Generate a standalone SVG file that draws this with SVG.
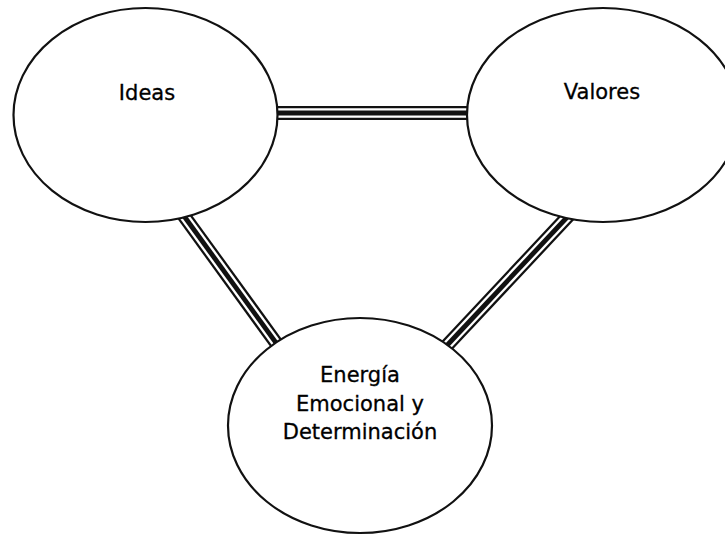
<svg xmlns="http://www.w3.org/2000/svg" width="725" height="535" viewBox="0 0 725 535">
<style>
.node ellipse{fill:#fff;stroke:#111;stroke-width:2.2}
.node text{font-family:"DejaVu Sans",Verdana,sans-serif;font-size:21px;fill:#000;stroke:#000;stroke-width:0.3;text-anchor:middle}
.c1{stroke:#111;stroke-width:14;fill:none}
.c2{stroke:#fff;stroke-width:9.5;fill:none}
.c3{stroke:#111;stroke-width:4.8;fill:none}
</style>
<rect width="725" height="535" fill="#fff"/>
<g id="connectors">
<g id="ideas-valores"><line class="c1" x1="270" y1="113" x2="475" y2="113"/><line class="c2" x1="270" y1="113" x2="475" y2="113"/><line class="c3" x1="270" y1="113" x2="475" y2="113"/></g>
<g id="ideas-energia"><line class="c1" x1="176" y1="205" x2="287" y2="358"/><line class="c2" x1="176" y1="205" x2="287" y2="358"/><line class="c3" x1="176" y1="205" x2="287" y2="358"/></g>
<g id="valores-energia"><line class="c1" x1="572" y1="212" x2="438" y2="355"/><line class="c2" x1="572" y1="212" x2="438" y2="355"/><line class="c3" x1="572" y1="212" x2="438" y2="355"/></g>
</g>
<g id="ideas" class="node"><ellipse cx="145.5" cy="115" rx="132" ry="107"/><text x="147" y="100">Ideas</text></g>
<g id="valores" class="node"><ellipse cx="603" cy="115" rx="136" ry="107"/><text x="602" y="99">Valores</text></g>
<g id="energia" class="node"><ellipse cx="360" cy="425.5" rx="132" ry="107.5"/><text x="360" y="382">Energía</text><text x="360" y="411">Emocional y</text><text x="360" y="439">Determinación</text></g>
</svg>
